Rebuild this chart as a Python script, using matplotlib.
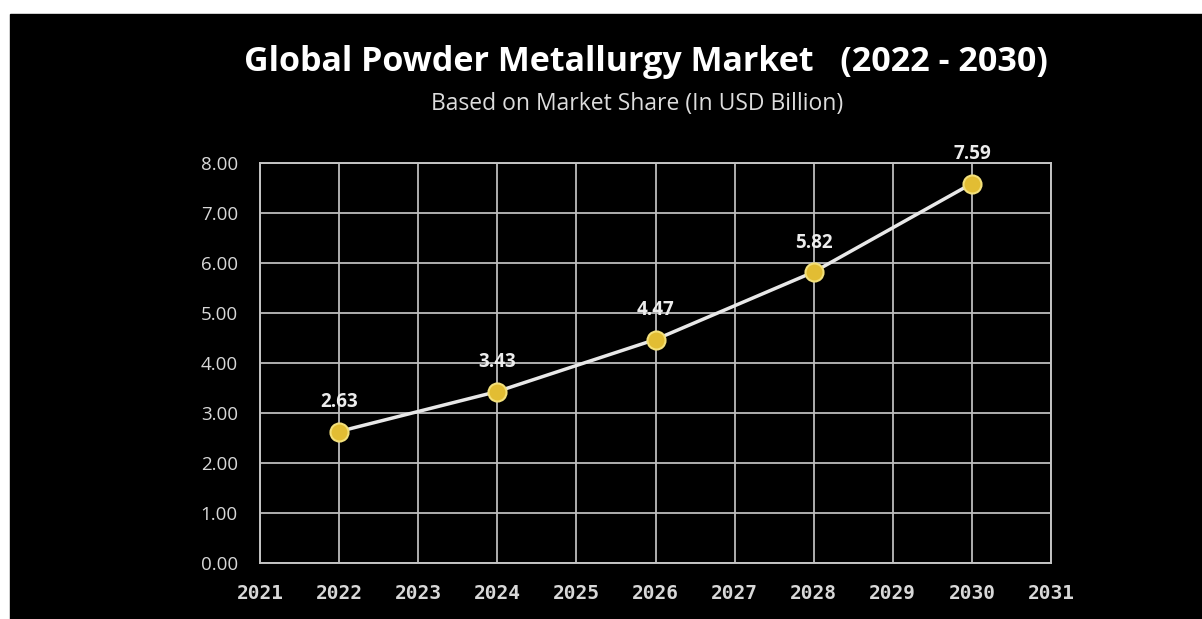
import matplotlib
matplotlib.use("Agg")
import matplotlib.pyplot as plt
from matplotlib.patches import Rectangle

years = [2022, 2024, 2026, 2028, 2030]
values = [2.63, 3.43, 4.47, 5.82, 7.59]
x_ticks = list(range(2021, 2032))
y_ticks = [0, 1, 2, 3, 4, 5, 6, 7, 8]

W, H = 1202, 619
fig = plt.figure(figsize=(W / 100, H / 100), dpi=100, facecolor="white")
# black panel with a thin white margin at the top and left
fig.patches.append(Rectangle((10 / W, 0), 1 - 10 / W, 1 - 14 / H,
                             transform=fig.transFigure, color="black", zorder=-5))

ax = fig.add_axes([260 / W, 1 - 563 / H, (1051 - 260) / W, (563 - 163) / H])
ax.set_facecolor("black")
ax.set_xlim(2021, 2031)
ax.set_ylim(0, 8)
ax.set_xticks(x_ticks)
ax.set_yticks(y_ticks)
ax.set_yticklabels(["{:.2f}".format(v) for v in y_ticks])
ax.grid(True, color="#bdbdbd", linewidth=1.3)
ax.set_axisbelow(True)
for s in ax.spines.values():
    s.set_color("#c4c4c4")
    s.set_linewidth(1.4)
ax.tick_params(length=0, colors="#d8d8d8")
ax.tick_params(axis="y", pad=16, labelsize=13.5)
ax.tick_params(axis="x", pad=15, labelsize=14)
for lab in ax.get_xticklabels():
    lab.set_fontfamily("DejaVu Sans Mono")
    lab.set_fontweight("bold")
for lab in ax.get_yticklabels():
    lab.set_fontfamily("Open Sans")

ax.plot(years, values, color="#e8e8e8", linewidth=2.5, zorder=3,
        marker="o", markersize=13, markerfacecolor="#e2bd33",
        markeredgecolor="#f3e07a", markeredgewidth=1.5, clip_on=False)
for x, v in zip(years, values):
    ax.annotate("{:.2f}".format(v), (x, v), xytext=(0, 14), textcoords="offset points",
                ha="center", va="bottom", color="#ececec", fontsize=13.5,
                fontweight="bold", family="Open Sans")

fig.text(646 / W, 1 - 62 / H, "Global Powder Metallurgy Market   (2022 - 2030)",
         ha="center", va="center", color="white", fontsize=24.5, fontweight="bold",
         family="Open Sans")
fig.text(637 / W, 1 - 104 / H, "Based on Market Share (In USD Billion)",
         ha="center", va="center", color="#dddddd", fontsize=16.5, family="Open Sans")

fig.savefig("out.png", dpi=100, facecolor="white")
